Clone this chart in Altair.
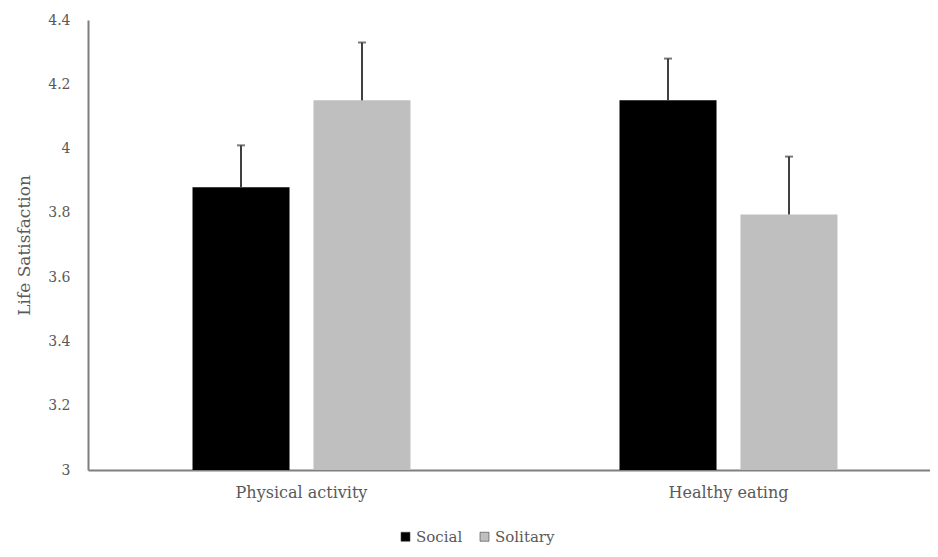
import altair as alt
import pandas as pd

categories = ["Physical activity", "Physical activity", "Healthy eating", "Healthy eating"]
groups = ["Social", "Solitary", "Social", "Solitary"]
means = [3.88, 4.15, 4.15, 3.795]
uppers = [4.01, 4.33, 4.28, 3.975]

df = pd.DataFrame({"cat": categories, "grp": groups, "mean": means, "upper": uppers})

FONT = "DejaVu Serif"
GRAY = "#595959"
cat_order = ["Physical activity", "Healthy eating"]

x = alt.X("cat:N", sort=cat_order, title=None,
          scale=alt.Scale(paddingInner=0, paddingOuter=0, range=[0, 854]),
          axis=alt.Axis(labelAngle=0, ticks=False, labelFont=FONT, labelFontSize=16,
                        labelColor=GRAY, labelPadding=14, domainColor="#7f7f7f", domainWidth=2))
xoff = alt.XOffset("grp:N", sort=["Social", "Solitary"],
                   scale=alt.Scale(paddingInner=0.198, paddingOuter=0.864))

bars = alt.Chart(df).mark_bar(clip=True).encode(
    x=x,
    xOffset=xoff,
    y=alt.Y("mean:Q", title="Life Satisfaction",
            scale=alt.Scale(domain=[3, 4.4], nice=False, zero=False),
            axis=alt.Axis(values=[3, 3.2, 3.4, 3.6, 3.8, 4, 4.2, 4.4], format=".1~f",
                          grid=False, ticks=False, labelFont=FONT, labelFontSize=14,
                          labelColor=GRAY, labelPadding=18, titleFont=FONT, titleFontSize=17,
                          titleFontWeight="normal", titleColor=GRAY, titlePadding=14,
                          domainColor="#7f7f7f", domainWidth=2)),
    color=alt.Color("grp:N", sort=["Social", "Solitary"],
                    scale=alt.Scale(domain=["Social", "Solitary"], range=["#000000", "#bfbfbf"]),
                    legend=alt.Legend(title=None, orient="none", direction="horizontal",
                                      legendX=310, legendY=509, symbolType="square",
                                      symbolSize=81, labelFont=FONT, labelFontSize=15,
                                      labelColor=GRAY, symbolStrokeColor="#404040",
                                      symbolStrokeWidth=0.6, columnPadding=14, labelOffset=3)),
)

rules = alt.Chart(df).mark_rule(color="#404040", strokeWidth=2).encode(
    x=alt.X("cat:N", sort=cat_order),
    xOffset=xoff,
    y="mean:Q",
    y2="upper:Q",
)

caps = alt.Chart(df).mark_tick(color="#404040", thickness=2, size=8).encode(
    x=alt.X("cat:N", sort=cat_order),
    xOffset=xoff,
    y="upper:Q",
)

chart = alt.layer(bars, rules, caps).properties(
    width=842, height=450,
    autosize=alt.AutoSizeParams(type="none"),
    padding={"left": 80, "top": 12, "right": 0, "bottom": 80},
).configure_view(stroke=None)

chart.save("out.html", embed_options={"renderer": "svg", "actions": False})
